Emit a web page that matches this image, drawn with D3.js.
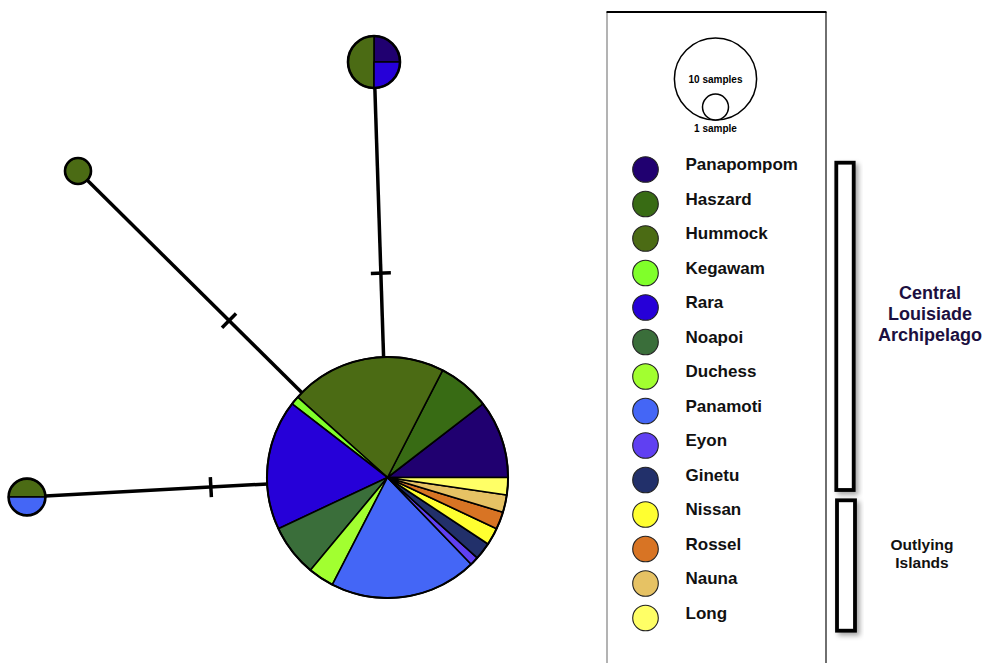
<!DOCTYPE html>
<html>
<head>
<meta charset="utf-8">
<script src="https://cdn.jsdelivr.net/npm/d3@7"></script>
<style>
  html, body { margin: 0; padding: 0; background: #fff; }
  svg { display: block; font-family: "Liberation Sans", Arial, Helvetica, sans-serif; }
</style>
</head>
<body>
<svg id="chart" width="987" height="663"></svg>
<script>
// ---------- data ----------
const populations = ["Panapompom", "Haszard", "Hummock", "Kegawam", "Rara", "Noapoi", "Duchess",
  "Panamoti", "Eyon", "Ginetu", "Nissan", "Rossel", "Nauna", "Long"];
const popColors = ["#200070", "#386b14", "#4b6b14", "#80ff2a", "#2600d8", "#3a6e3a", "#a2ff30",
  "#4466f6", "#6040f2", "#22306a", "#ffff30", "#d87424", "#e6c264", "#ffff66"];
// haplotype sample counts per population (same order as populations)
const hapCentral = [9, 6, 18, 1, 15, 6, 3, 17, 1, 2, 2, 2, 2, 2];
const hapTop     = [1, 0, 2, 0, 1, 0, 0, 0, 0, 0, 0, 0, 0, 0];
const hapUpLeft  = [0, 0, 1, 0, 0, 0, 0, 0, 0, 0, 0, 0, 0, 0];
const hapLeft    = [0, 0, 1, 0, 0, 0, 0, 1, 0, 0, 0, 0, 0, 0];
const haplotypes = [hapCentral, hapTop, hapUpLeft, hapLeft];
// edges: [from haplotype, to haplotype, mutation marks as fraction along the edge]
const edges = [[0, 1, [0.492]], [0, 2, [0.512]], [0, 3, [0.49]]];
const sizeLegend = [10, 1];
const groupLabels = [["Central", "Louisiade", "Archipelago"], ["Outlying", "Islands"]];

// ---------- layout ----------
const nodePos = [[387.5, 477.5], [374, 62], [78, 171], [27, 497]];

const svg = d3.select("#chart");
const defs = svg.append("defs");
const f = defs.append("filter").attr("id", "shadow")
  .attr("x", "-50%").attr("y", "-20%").attr("width", "200%").attr("height", "140%");
f.append("feDropShadow").attr("dx", 3).attr("dy", 3).attr("stdDeviation", 2.5)
  .attr("flood-color", "#000").attr("flood-opacity", 0.35);

const rScale = d3.scaleSqrt().domain([0, 1]).range([0, 13]).clamp(false);
const color = d3.scaleOrdinal().domain(populations).range(popColors);
const pie = d3.pie().sort(null).value(d => d.v)
  .startAngle(Math.PI / 2).endAngle(Math.PI / 2 - 2 * Math.PI);

// edges
const gEdges = svg.append("g");
edges.forEach(([a, b, marks]) => {
  const [x1, y1] = nodePos[a], [x2, y2] = nodePos[b];
  gEdges.append("line").attr("x1", x1).attr("y1", y1).attr("x2", x2).attr("y2", y2)
    .attr("stroke", "#000").attr("stroke-width", 3.5);
  const dx = x2 - x1, dy = y2 - y1, L = Math.hypot(dx, dy);
  const nx = -dy / L, ny = dx / L;
  marks.forEach(t => {
    const cx = x1 + dx * t, cy = y1 + dy * t;
    gEdges.append("line")
      .attr("x1", cx - nx * 10).attr("y1", cy - ny * 10)
      .attr("x2", cx + nx * 10).attr("y2", cy + ny * 10)
      .attr("stroke", "#000").attr("stroke-width", 3.5);
  });
});

// pies
haplotypes.forEach((counts, i) => {
  const total = d3.sum(counts);
  const r = rScale(total);
  const g = svg.append("g").attr("transform", `translate(${nodePos[i][0]},${nodePos[i][1]})`);
  const data = counts.map((v, k) => ({ v, name: populations[k] })).filter(d => d.v > 0);
  const arc = d3.arc().innerRadius(0).outerRadius(r);
  g.selectAll("path").data(pie(data)).join("path")
    .attr("d", arc)
    .attr("fill", d => color(d.data.name))
    .attr("stroke", "#000").attr("stroke-width", 1.6)
    .attr("stroke-linejoin", "round");
  g.append("circle").attr("r", r).attr("fill", "none")
    .attr("stroke", "#000").attr("stroke-width", i === 0 ? 2 : 2.6);
});

// legend box
const lg = svg.append("g");
lg.append("line").attr("x1", 607).attr("y1", 12).attr("x2", 607).attr("y2", 663)
  .attr("stroke", "#8a8a8a").attr("stroke-width", 1.3);
lg.append("line").attr("x1", 826).attr("y1", 12).attr("x2", 826).attr("y2", 663)
  .attr("stroke", "#222").attr("stroke-width", 1.3);
lg.append("line").attr("x1", 606.5).attr("y1", 12).attr("x2", 826.5).attr("y2", 12)
  .attr("stroke", "#000").attr("stroke-width", 2.2);

// size legend
const bigR = rScale(sizeLegend[0]), smallR = rScale(sizeLegend[1]);
const sx = 715.5, sy = 79;
lg.append("circle").attr("cx", sx).attr("cy", sy).attr("r", bigR)
  .attr("fill", "#fff").attr("stroke", "#000").attr("stroke-width", 1.5);
lg.append("circle").attr("cx", sx).attr("cy", sy + bigR - smallR).attr("r", smallR)
  .attr("fill", "#fff").attr("stroke", "#000").attr("stroke-width", 1.5);
lg.append("text").attr("x", sx).attr("y", sy + 3.5).attr("text-anchor", "middle")
  .attr("font-size", 10).attr("font-weight", "bold").text(sizeLegend[0] + " samples");
lg.append("text").attr("x", sx).attr("y", sy + bigR + 11.5).attr("text-anchor", "middle")
  .attr("font-size", 10).attr("font-weight", "bold").text(sizeLegend[1] + " sample");

// colour legend
const yLeg = d3.scalePoint().domain(populations).range([169.5, 618]);
const items = lg.selectAll("g.item").data(populations).join("g").attr("class", "item")
  .attr("transform", d => `translate(0,${yLeg(d)})`);
items.append("circle").attr("cx", 645.5).attr("cy", 0).attr("r", 12.8)
  .attr("fill", d => color(d)).attr("stroke", "#222").attr("stroke-width", 1.1);
items.append("text").attr("x", 685.5).attr("y", 0.5)
  .attr("font-size", 17).attr("font-weight", "bold").attr("fill", "#111").text(d => d);

// group brackets
const bx = [836.3, 837];
const bw = [17.4, 18];
const yTop = [162.7, 500.3], yBot = [490, 630.7];
bx.forEach((x, gi) => {
  svg.append("rect").attr("x", x).attr("y", yTop[gi])
    .attr("width", bw[gi]).attr("height", yBot[gi] - yTop[gi])
    .attr("fill", "#fff").attr("stroke", "#000").attr("stroke-width", 3.8)
    .attr("filter", "url(#shadow)");
});
// group labels
const t1 = svg.append("text").attr("text-anchor", "middle").attr("font-size", 18)
  .attr("font-weight", "bold").attr("fill", "#1c0f40");
groupLabels[0].forEach((s, k) => t1.append("tspan").attr("x", 930).attr("y", 299 + k * 21).text(s));
const t2 = svg.append("text").attr("text-anchor", "middle").attr("font-size", 15.5)
  .attr("font-weight", "bold").attr("fill", "#111");
groupLabels[1].forEach((s, k) => t2.append("tspan").attr("x", 922).attr("y", 550 + k * 18).text(s));
</script>
</body>
</html>
